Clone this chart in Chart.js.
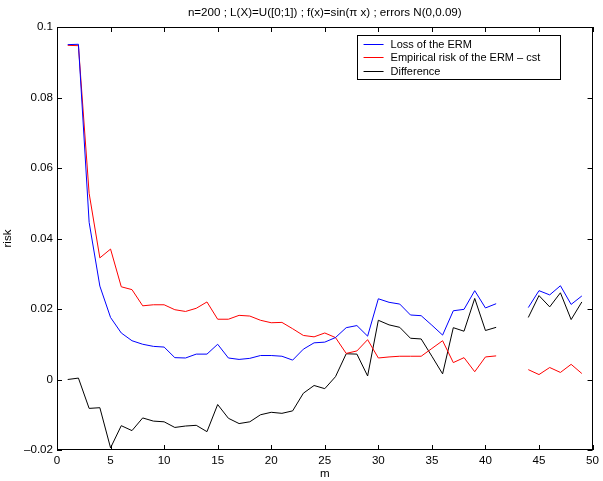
<!DOCTYPE html>
<html>
<head>
<meta charset="utf-8">
<script src="https://cdn.jsdelivr.net/npm/chart.js@4/dist/chart.umd.min.js"></script>
<style>
  html, body { margin: 0; padding: 0; background: #fff; }
  canvas { display: block; }
</style>
</head>
<body>
<canvas id="riskChart" width="603" height="481"></canvas>
<script>
// Sample sizes m (42 and 43 have no runs).
const ms = [1, 2, 3, 4, 5, 6, 7, 8, 9, 10, 11, 12, 13, 14, 15, 16, 17, 18, 19, 20,
  21, 22, 23, 24, 25, 26, 27, 28, 29, 30, 31, 32, 33, 34, 35, 36, 37, 38, 39, 40,
  41, 42, 43, 44, 45, 46, 47, 48, 49];

// Loss of the ERM.
const lossErm = [0.0950, 0.0951, 0.0446, 0.0265, 0.0176, 0.0132, 0.0110, 0.0100, 0.0094, 0.0092,
  0.0062, 0.0061, 0.0072, 0.0072, 0.0100, 0.0061, 0.0057, 0.0060, 0.0068, 0.0068,
  0.0066, 0.0055, 0.0086, 0.0104, 0.0106, 0.0119, 0.0147, 0.0153, 0.0123, 0.0229,
  0.0219, 0.0214, 0.0183, 0.0181, 0.0154, 0.0126, 0.0195, 0.0199, 0.0252, 0.0203,
  0.0215, null, null, 0.0204, 0.0252, 0.0240, 0.0266, 0.0213, 0.0237];

// Empirical risk of the ERM minus the noise constant.
const empRisk = [0.0948, 0.0947, 0.0528, 0.0345, 0.0370, 0.0263, 0.0255, 0.0209, 0.0212, 0.0212,
  0.0198, 0.0193, 0.0202, 0.0220, 0.0171, 0.0171, 0.0182, 0.0180, 0.0168, 0.0161,
  0.0162, 0.0144, 0.0125, 0.0121, 0.0132, 0.0119, 0.0074, 0.0081, 0.0113, 0.0061,
  0.0064, 0.0066, 0.0066, 0.0066, 0.0088, 0.0110, 0.0048, 0.0062, 0.0022, 0.0064,
  0.0067, null, null, 0.0028, 0.0014, 0.0034, 0.0020, 0.0043, 0.0017];

// Loss minus empirical risk.
const difference = [0.0000, 0.0004, -0.0082, -0.0080, -0.0194, -0.0131, -0.0145, -0.0109, -0.0118, -0.0120,
  -0.0136, -0.0132, -0.0130, -0.0148, -0.0071, -0.0110, -0.0125, -0.0120, -0.0100, -0.0093,
  -0.0096, -0.0089, -0.0039, -0.0017, -0.0026, 0.0008, 0.0073, 0.0072, 0.0010, 0.0168,
  0.0155, 0.0148, 0.0117, 0.0115, 0.0066, 0.0016, 0.0147, 0.0137, 0.0230, 0.0139,
  0.0148, null, null, 0.0176, 0.0238, 0.0206, 0.0246, 0.0170, 0.0220];

const titleText = 'n=200 ; L(X)=U([0;1]) ; f(x)=sin(\u03c0 x) ; errors N(0,0.09)';
const fontFamily = '"Liberation Sans", Arial, Helvetica, sans-serif';

function points(values) {
  return ms.map((m, i) => ({x: m, y: values[i]}));
}

function series(label, values, color) {
  return {
    label: label,
    data: points(values),
    borderColor: color,
    backgroundColor: color,
    borderWidth: 1,
    pointRadius: 0,
    tension: 0,
    spanGaps: false,
    fill: false
  };
}

// Box around the axes, inward ticks on all sides, title and legend.
const matlabFrame = {
  id: 'matlabFrame',
  afterDraw(chart) {
    const ctx = chart.ctx;
    const area = chart.chartArea;
    const xs = chart.scales.x;
    const ys = chart.scales.y;
    const tick = 5;

    ctx.save();
    ctx.strokeStyle = '#000';
    ctx.lineWidth = 1;
    ctx.strokeRect(Math.round(area.left) + 0.5, Math.round(area.top) + 0.5,
      Math.round(area.right - area.left) - 1, Math.round(area.bottom - area.top) - 1);

    ctx.beginPath();
    xs.ticks.forEach(t => {
      const px = Math.round(xs.getPixelForValue(t.value)) + 0.5;
      ctx.moveTo(px, area.bottom);
      ctx.lineTo(px, area.bottom - tick);
      ctx.moveTo(px, area.top);
      ctx.lineTo(px, area.top + tick);
    });
    ys.ticks.forEach(t => {
      const py = Math.round(ys.getPixelForValue(t.value)) + 0.5;
      ctx.moveTo(area.left, py);
      ctx.lineTo(area.left + tick, py);
      ctx.moveTo(area.right, py);
      ctx.lineTo(area.right - tick, py);
    });
    ctx.stroke();

    // Title over the plot area.
    ctx.fillStyle = '#000';
    ctx.font = '11.6px ' + fontFamily;
    ctx.textAlign = 'center';
    ctx.textBaseline = 'middle';
    ctx.fillText(titleText, (area.left + area.right) / 2, 13);

    // Legend in the top right corner.
    ctx.font = '11px ' + fontFamily;
    const box = {left: area.right - 236, top: area.top + 8, width: 203, height: 44};
    ctx.fillStyle = '#fff';
    ctx.fillRect(box.left, box.top, box.width, box.height);
    ctx.strokeStyle = '#000';
    ctx.strokeRect(Math.round(box.left) + 0.5, Math.round(box.top) + 0.5, box.width, box.height);
    ctx.textAlign = 'left';
    chart.data.datasets.forEach((ds, i) => {
      const y = Math.round(box.top + 8.5 + i * 13.8) + 0.5;
      ctx.strokeStyle = ds.borderColor;
      ctx.beginPath();
      ctx.moveTo(box.left + 7, y);
      ctx.lineTo(box.left + 27, y);
      ctx.stroke();
      ctx.fillStyle = '#000';
      ctx.fillText(ds.label, box.left + 34, y);
    });
    ctx.restore();
  }
};

function buildChart() {
  const tickFont = {family: fontFamily, size: 11.6};

  return new Chart('riskChart', {
    type: 'line',
    data: {
      datasets: [
        series('Loss of the ERM', lossErm, '#0000ff'),
        series('Empirical risk of the ERM \u2013 cst', empRisk, '#ff0000'),
        series('Difference', difference, '#000000')
      ]
    },
    options: {
      responsive: false,
      animation: false,
      layout: {padding: {top: 27, right: 8, left: 0, bottom: 0}},
      plugins: {
        legend: {display: false},
        tooltip: {enabled: false}
      },
      scales: {
        x: {
          type: 'linear',
          min: 0,
          max: 50,
          grid: {display: false, drawTicks: false},
          border: {display: false},
          ticks: {stepSize: 5, padding: 4, color: '#000', font: tickFont, maxRotation: 0},
          title: {display: true, text: 'm', color: '#000', font: tickFont, padding: {top: 0, bottom: 0}},
          afterFit(scale) { scale.height = 31; }
        },
        y: {
          min: -0.02,
          max: 0.1,
          grid: {display: false, drawTicks: false},
          border: {display: false},
          ticks: {
            stepSize: 0.02,
            padding: 4,
            color: '#000',
            font: tickFont,
            callback: v => String(+v.toFixed(2)).replace('-', '\u2013')
          },
          title: {display: true, text: 'risk', color: '#000', font: tickFont, padding: {top: 1, bottom: 0}},
          afterFit(scale) { scale.width = 57; }
        }
      }
    },
    plugins: [matlabFrame]
  });
}

buildChart();
</script>
</body>
</html>
